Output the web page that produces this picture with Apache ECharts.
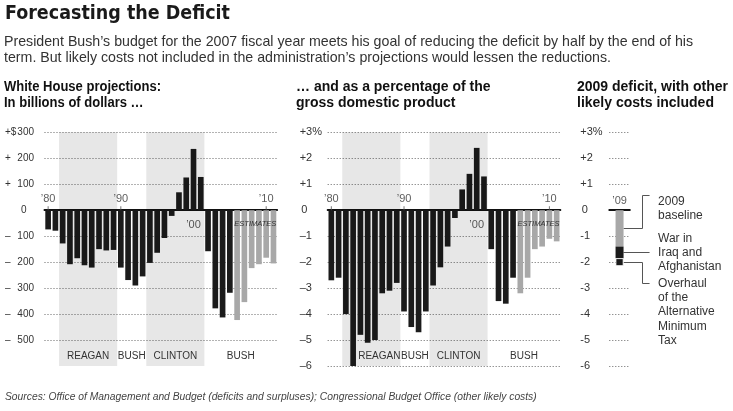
<!DOCTYPE html>
<html>
<head>
<meta charset="utf-8">
<script src="https://cdn.jsdelivr.net/npm/echarts@6/dist/echarts.min.js"></script>
<style>
  html, body { margin: 0; padding: 0; background: #fff; }
  #chart { width: 733px; height: 411px; }
</style>
</head>
<body>
<div id="chart"></div>
<script>
  // fiscal years in the two long panels
  const years = ['1980', '1981', '1982', '1983', '1984', '1985', '1986', '1987', '1988', '1989',
    '1990', '1991', '1992', '1993', '1994', '1995', '1996', '1997', '1998', '1999',
    '2000', '2001', '2002', '2003', '2004', '2005', '2006', '2007', '2008', '2009', '2010', '2011']
  const firstEstimate = '2006'
  // deficit (-) or surplus (+), billions of dollars
  const deficitBillions = [-74, -79, -128, -208, -185, -212, -221, -150, -155, -153,
    -221, -269, -290, -255, -203, -164, -107, -22, 69, 126,
    236, 128, -158, -378, -413, -318, -423, -354, -223, -208, -183, -205]
  // same, as a percentage of GDP
  const deficitPctGdp = [-2.7, -2.6, -4.0, -6.0, -4.8, -5.1, -5.0, -3.2, -3.1, -2.8,
    -3.9, -4.5, -4.7, -3.9, -2.9, -2.2, -1.4, -0.3, 0.8, 1.4,
    2.4, 1.3, -1.5, -3.5, -3.6, -2.6, -3.2, -2.6, -1.5, -1.4, -1.1, -1.2]
  const yearsLabelledAbove = ['1980', '1990', '2010']
  const yearsLabelledBelow = ['2000']
  // [president, first fiscal year, last fiscal year]
  const terms = [['REAGAN', '1982', '1989'], ['BUSH', '1990', '1993'], ['CLINTON', '1994', '2001'], ['BUSH', '2002', '2011']]

  const dollarTickLabels = ['+$300', '+ 200', '+ 100', '0', '– 100', '– 200', '– 300', '– 400', '– 500']
  const pctTickLabels = ['+3%', '+2', '+1', '0', '–1', '–2', '–3', '–4', '–5', '–6']
  const costTickLabels = ['+3%', '+2', '+1', '0', '-1', '-2', '-3', '-4', '-5', '-6']

  // 2009 deficit as % of GDP with other likely costs
  const costYear = ['2009']
  const baseline2009 = [-1.4]
  const warIraqAfghanistan = [-0.45]
  const amtOverhaul = [-0.3]
  const costNotes = ['2009\nbaseline', 'War in\nIraq and\nAfghanistan', 'Overhaul\nof the\nAlternative\nMinimum\nTax']

  const FONT = '"Liberation Sans", Arial, sans-serif'
  const HEAD = '"DejaVu Sans Condensed", "DejaVu Sans", sans-serif'
  const BLACK = '#1b1b1b'
  const GRAY = '#a8a8a8'
  const SHADE = 'rgba(0,0,0,0.095)'
  const CLEAR = 'rgba(0,0,0,0)'
  const estIdx = years.indexOf(firstEstimate)
  const yearText = v => '\u2019' + v.slice(2)

  function barData(vals) {
    return vals.map((v, i) => ({value: v, itemStyle: {color: i >= estIdx ? GRAY : BLACK}}))
  }

  function termAreas(firstShift, yMin) {
    let list = terms.map((t, i) => [
      {name: t[0], xAxis: t[1], itemStyle: {color: i % 2 === 0 ? SHADE : CLEAR},
        label: {offset: [i === 0 ? firstShift : 0, 0]}},
      {xAxis: t[2]}
    ])
    list.push([
      {name: 'ESTIMATES', xAxis: firstEstimate, yAxis: 0, itemStyle: {color: CLEAR},
        label: {position: 'insideTop', distance: 10, fontStyle: 'italic', fontSize: 7.5, color: '#333'}},
      {xAxis: years[years.length - 1], yAxis: yMin}
    ])
    return list
  }

  function catAxis(gridIndex, yIndex, data) {
    return {
      type: 'category', gridIndex: gridIndex, data: data,
      axisLine: {onZero: true, onZeroAxisIndex: yIndex, lineStyle: {color: '#111', width: 2}},
      axisTick: {show: false, interval: 0},
      axisLabel: {show: false},
      splitLine: {show: false}
    }
  }

  // year labels sitting on the zero line, above or below it
  function yearMarks(axisIndex, shown, above, withTick) {
    return {
      type: 'scatter', xAxisIndex: axisIndex, yAxisIndex: axisIndex, silent: true,
      data: shown.map(y => [y, 0]),
      symbol: 'rect', symbolSize: withTick ? [1, 4] : 0, symbolOffset: [0, above ? -2 : 2],
      itemStyle: {color: '#555'},
      label: {show: true, position: above ? 'top' : 'bottom', distance: above ? 2 : 7,
        formatter: p => yearText(p.value[0]), color: '#333', fontSize: 11, fontFamily: FONT}
    }
  }

  function tickFormatter(labels, max, step) {
    return function (v) {
      const s = labels[Math.round((max - v) / step)]
      if (s == null) return ''
      const m = s.match(/^([^0-9]*)(.*)$/)
      const sign = m[1].trim()
      if (!sign) return '{zs| }{z|' + m[2] + '}'
      return '{s|' + sign + '}{n|' + m[2] + '}'
    }
  }

  function valueAxis(gridIndex, min, max, step, labels, margin, fontSize, rich) {
    return {
      type: 'value', gridIndex: gridIndex, min: min, max: max, interval: step,
      axisLine: {show: false}, axisTick: {show: false},
      splitLine: {show: true, showMinLine: labels.length * step > (max - min),
        lineStyle: {color: '#666', type: [1, 2], width: 1}},
      axisLabel: {align: 'left', margin: margin, color: '#333', fontSize: fontSize, fontFamily: FONT,
        formatter: tickFormatter(labels, max, step), rich: rich}
    }
  }

  const dollarRich = {
    s: {width: 12, align: 'left', fontSize: 10, fontFamily: FONT, color: '#333'},
    n: {width: 17, align: 'right', fontSize: 10, fontFamily: FONT, color: '#333'},
    zs: {width: 16, fontSize: 10},
    z: {align: 'left', fontSize: 10, fontFamily: FONT, color: '#333'}
  }
  const pctRich = {
    s: {fontSize: 11, fontFamily: FONT, color: '#333'},
    n: {fontSize: 11, fontFamily: FONT, color: '#333'},
    zs: {width: 1.5, fontSize: 11},
    z: {fontSize: 11, fontFamily: FONT, color: '#333'}
  }

  const areaStyle = {
    silent: true, z: 3,
    label: {show: true, position: 'insideBottom', distance: 5, color: '#333', fontSize: 10, fontFamily: FONT},
    emphasis: {disabled: true}
  }

  const chart = echarts.init(document.getElementById('chart'))
  chart.setOption({
    animation: false,
    grid: [
      {left: 44.5, top: 132.3, width: 232.6, height: 233.7, outerBoundsMode: 'none'},
      {left: 327.7, top: 132.3, width: 232.6, height: 233.7, outerBoundsMode: 'none'},
      {left: 609.3, top: 132.3, width: 20.5, height: 233.7, outerBoundsMode: 'none'}
    ],
    xAxis: [
      catAxis(0, 0, years),
      catAxis(1, 1, years),
      catAxis(2, 2, costYear)
    ],
    yAxis: [
      valueAxis(0, -600, 300, 100, dollarTickLabels, 39.5, 10, dollarRich),
      valueAxis(1, -6, 3, 1, pctTickLabels, 28, 11, pctRich),
      valueAxis(2, -6, 3, 1, costTickLabels, 29, 11, pctRich)
    ],
    series: [
      {type: 'bar', name: 'Billions', xAxisIndex: 0, yAxisIndex: 0, barWidth: '78%',
        data: barData(deficitBillions),
        markArea: Object.assign({data: termAreas(0, -600)}, areaStyle)},
      {type: 'bar', name: 'Percent of GDP', xAxisIndex: 1, yAxisIndex: 1, barWidth: '78%',
        data: barData(deficitPctGdp),
        markArea: Object.assign({data: termAreas(8, -6)}, areaStyle)},
      {type: 'bar', name: costNotes[0], xAxisIndex: 2, yAxisIndex: 2, stack: 'cost', barWidth: 8,
        itemStyle: {color: GRAY}, data: baseline2009},
      {type: 'bar', name: costNotes[1], xAxisIndex: 2, yAxisIndex: 2, stack: 'cost', barWidth: 8,
        itemStyle: {color: BLACK}, data: warIraqAfghanistan},
      {type: 'bar', name: costNotes[2], xAxisIndex: 2, yAxisIndex: 2, stack: 'cost', barWidth: 8,
        itemStyle: {color: BLACK, borderColor: '#fff', borderWidth: 0.8}, data: amtOverhaul},
      yearMarks(0, yearsLabelledAbove, true, true),
      yearMarks(0, yearsLabelledBelow, false, false),
      yearMarks(1, yearsLabelledAbove, true, true),
      yearMarks(1, yearsLabelledBelow, false, false),
      yearMarks(2, costYear, true, false)
    ]
  })

  // headline texts
  const txt = (x, y, text, size, weight, family, color, extra) => Object.assign({
    type: 'text', x: x, y: y, silent: true,
    style: Object.assign({text: text, fontSize: size, fontWeight: weight, fontFamily: family,
      fill: color, verticalAlign: 'middle'}, (extra && extra.style) || {})
  }, extra && extra.el || {})
  let graphics = [
    txt(5, 14.3, 'Forecasting the Deficit', 19, 'bold', HEAD, '#1a1a1a', {el: {scaleX: 1.025}}),
    txt(4, 41.7, 'President Bush\u2019s budget for the 2007 fiscal year meets his goal of reducing the deficit by half by the end of his', 14.2, 'normal', FONT, '#333'),
    txt(4, 57.7, 'term. But likely costs not included in the administration\u2019s projections would lessen the reductions.', 14.2, 'normal', FONT, '#333'),
    txt(4, 86.7, 'White House projections:', 14, 'bold', FONT, '#111', {el: {scaleX: 0.93}}),
    txt(4, 103.3, 'In billions of dollars \u2026', 14, 'bold', FONT, '#111', {el: {scaleX: 0.93}}),
    txt(296, 86.7, '\u2026 and as a percentage of the', 14, 'bold', FONT, '#111'),
    txt(296, 103.3, 'gross domestic product', 14, 'bold', FONT, '#111'),
    txt(577, 86.7, '2009 deficit, with other', 14, 'bold', FONT, '#111'),
    txt(577, 103.3, 'likely costs included', 14, 'bold', FONT, '#111'),
    txt(5, 397, 'Sources: Office of Management and Budget (deficits and surpluses); Congressional Budget Office (other likely costs)', 10.3, 'normal', FONT, '#444', {style: {fontStyle: 'italic'}})
  ]

  // leader lines for the 2009 panel, placed from the axis scale
  const px = v => chart.convertToPixel({seriesIndex: 2}, [costYear[0], v])
  const zero = px(0)
  const edge = zero[0] + 4
  const elbow = Math.round(zero[0] + 22) + 0.5
  const tip = zero[0] + 30
  const textX = zero[0] + 38.5
  const yBase = Math.round(px(baseline2009[0] / 2)[1]) + 0.5
  const yWar = Math.round(px(baseline2009[0] + warIraqAfghanistan[0] / 2)[1]) + 0.5
  const yAmt = Math.round(px(baseline2009[0] + warIraqAfghanistan[0] + amtOverhaul[0] / 2)[1]) + 0.5
  const yTop = Math.round(zero[1] - 15) + 0.5
  const yBot = Math.round(zero[1] + 73) + 0.5
  const lead = pts => ({type: 'polyline', silent: true, shape: {points: pts},
    style: {stroke: '#555', lineWidth: 1, fill: null}})
  graphics.push(
    lead([[edge, yBase], [elbow, yBase], [elbow, yTop], [tip, yTop]]),
    lead([[edge, yWar], [tip, yWar]]),
    lead([[edge, yAmt], [elbow, yAmt], [elbow, yBot], [tip, yBot]]),
    txt(textX, yTop - 1, costNotes[0], 12, 'normal', FONT, '#333', {style: {verticalAlign: 'top', lineHeight: 14}}),
    txt(textX, yWar, costNotes[1], 12, 'normal', FONT, '#333', {style: {lineHeight: 14.2}}),
    txt(textX, yBot - 7, costNotes[2], 12, 'normal', FONT, '#333', {style: {verticalAlign: 'top', lineHeight: 14.2}})
  )
  chart.setOption({graphic: graphics})
</script>
</body>
</html>
